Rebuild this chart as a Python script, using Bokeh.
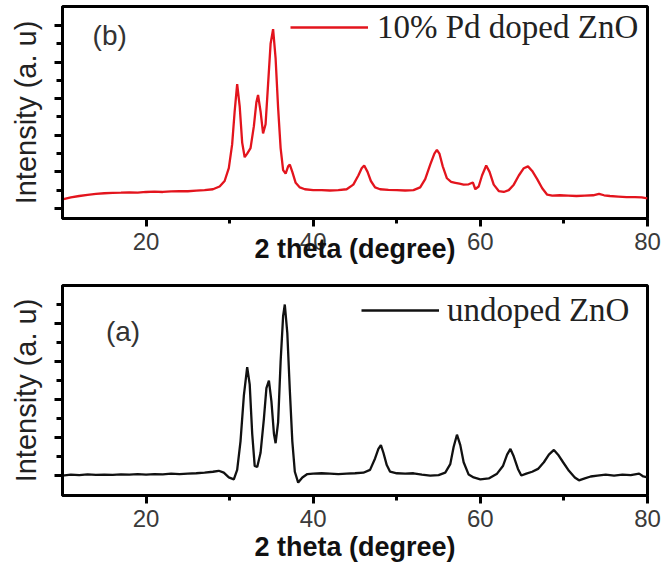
from bokeh.plotting import figure
from bokeh.layouts import column
from bokeh.models import Range1d, FixedTicker, Label, Legend, LegendItem
from bokeh.embed import file_html
from bokeh.resources import INLINE

# ---- data ----
theta_b = [10.0, 11, 12, 13, 14, 15, 16, 17, 18, 19, 20, 21, 22, 23, 24, 25, 26, 27, 28,
           28.8, 29.4, 29.9, 30.3, 30.6, 30.9, 31.2, 31.5, 31.8, 32.1, 32.5, 32.9, 33.2,
           33.4, 33.7, 34.0, 34.3, 34.6, 34.9, 35.2, 35.5, 35.8, 36.1, 36.4, 36.7, 37.0,
           37.2, 37.5, 37.9, 38.4, 39, 40, 41, 42, 43, 44, 44.8, 45.4, 45.8, 46.1, 46.5,
           46.9, 47.4, 48, 49, 50, 51, 52, 52.8, 53.4, 54.0, 54.5, 54.8, 55.1, 55.5, 56.0,
           56.5, 57, 57.5, 58, 58.6, 59.1, 59.4, 59.8, 60.2, 60.7, 61.1, 61.6, 62.2, 62.8,
           63.4, 64.0, 64.6, 65.2, 65.7, 66.2, 66.8, 67.4, 68.0, 68.6, 69.5, 70.5, 71.5,
           72.5, 73.5, 74.2, 74.8, 75.5, 76.5, 77.5, 78.5, 79.3, 80]
int_b = [0.49, 0.6, 0.68, 0.74, 0.8, 0.83, 0.85, 0.86, 0.88, 0.87, 0.9, 0.92, 0.9, 0.93,
         0.95, 0.94, 0.97, 1.0, 1.05,
         1.2, 1.5, 2.2, 3.5, 5.3, 6.8, 5.6, 3.6, 2.8, 3.0, 3.3, 4.5, 5.8,
         6.2, 5.3, 4.1, 4.6, 6.8, 9.0, 9.8, 8.2, 5.5, 3.3, 2.1, 1.9, 2.3,
         2.4, 2.0, 1.4, 1.15, 1.05, 1.0, 1.0, 0.98, 1.0, 1.05, 1.3, 1.8, 2.2, 2.35, 2.0,
         1.5, 1.15, 1.05, 1.02, 1.0, 0.98, 1.0, 1.15, 1.6, 2.4, 3.0, 3.2, 3.0, 2.3, 1.65,
         1.45, 1.4, 1.35, 1.3, 1.32, 1.42, 1.05, 1.2, 1.8, 2.35, 2.0, 1.3, 0.95, 0.9,
         1.0, 1.3, 1.8, 2.2, 2.3, 2.05, 1.6, 1.1, 0.75, 0.7, 0.72, 0.7, 0.68,
         0.7, 0.72, 0.8, 0.72, 0.68, 0.65, 0.62, 0.62, 0.6, 0.55]

theta_a = [10, 11, 12, 13, 14, 15, 16, 17, 18, 19, 20, 21, 22, 23, 24, 25, 26, 27, 28,
           28.7, 29.3, 29.9, 30.5, 30.9, 31.3, 31.7, 32.1, 32.4, 32.7, 33.0, 33.3, 33.7,
           34.1, 34.4, 34.7, 35.0, 35.3, 35.5, 35.8, 36.1, 36.4, 36.6, 36.9, 37.2, 37.5,
           37.8, 38.2, 38.7, 39.3, 40, 41, 42, 43, 44, 45, 46, 46.8, 47.4, 47.8, 48.1,
           48.4, 48.8, 49.2, 50, 51, 52, 53, 54, 55, 55.8, 56.4, 56.8, 57.2, 57.6, 58.0,
           58.6, 59.2, 60, 61, 62, 62.7, 63.2, 63.6, 64.0, 64.5, 64.9, 65.5, 66.2, 66.9,
           67.6, 68.2, 68.8, 69.3, 69.9, 70.6, 71.3, 71.8, 72.5, 73.2, 74, 75, 76, 77, 78,
           79, 79.5, 80]
int_a = [0.0, 0.05, 0.02, 0.06, 0.04, 0.05, 0.03, 0.06, 0.05, 0.07, 0.05, 0.08, 0.06, 0.1,
         0.08, 0.1, 0.12, 0.15, 0.2,
         0.25, 0.15, -0.1, -0.2, 0.3, 1.8, 4.2, 5.7, 4.8, 2.2, 0.5, 0.45, 1.2,
         3.0, 4.6, 5.0, 3.9, 2.2, 1.7, 2.8, 6.0, 8.4, 9.0, 7.5, 4.5, 1.8,
         0.2, -0.37, -0.1, 0.08, 0.1, 0.12, 0.1, 0.08, 0.1, 0.12, 0.15, 0.3, 0.9, 1.4, 1.6,
         1.2, 0.55, 0.2, 0.12, 0.1, 0.12, 0.05, 0.0, 0.02, 0.15, 0.6, 1.5, 2.15, 1.6, 0.7,
         0.05, -0.1, -0.2, -0.15, 0.1, 0.5, 1.1, 1.4, 1.0, 0.35, 0.0, 0.1, 0.2, 0.35,
         0.7, 1.1, 1.35, 1.1, 0.7, 0.25, -0.1, -0.25, -0.15, -0.05, 0.0, 0.05, 0.0, 0.05, 0.02,
         0.1, -0.05, -0.1]

x_major = [20, 40, 60, 80]
x_minor = [30, 50, 70]
label_b = "10% Pd doped ZnO"
label_a = "undoped ZnO"
x_title = "2 theta (degree)"
y_title = "Intensity (a. u)"

SANS = "Liberation Sans"
SERIF = "Liberation Serif"


def make_panel(xs, ys, color, legend_text, panel_text, y_lo, y_hi, y_major, y_minor,
               width, height, bl, br, bt, bb, leg_width, leg_height, leg_standoff,
               panel_xy, title_standoff):
    p = figure(width=width, height=height, output_backend="svg", toolbar_location=None,
               x_range=Range1d(10, 80), y_range=Range1d(y_lo, y_hi),
               min_border_left=bl, min_border_right=br, min_border_top=bt,
               min_border_bottom=bb)
    p.background_fill_color = "white"
    p.border_fill_color = "white"
    p.outline_line_color = "black"
    p.outline_line_width = 3
    p.xgrid.visible = False
    p.ygrid.visible = False

    r = p.line(xs, ys, line_color=color, line_width=2.3)

    xa = p.xaxis[0]
    xa.ticker = FixedTicker(ticks=x_major, minor_ticks=x_minor)
    xa.axis_line_width = 3
    xa.major_tick_line_width = 3
    xa.minor_tick_line_width = 3
    xa.major_tick_in = 0
    xa.major_tick_out = 8
    xa.minor_tick_in = 0
    xa.minor_tick_out = 5
    xa.major_label_text_font = SANS
    xa.major_label_text_font_size = "24px"
    xa.major_label_text_color = "#3a3a3a"
    xa.major_label_standoff = 6
    xa.axis_label = x_title
    xa.axis_label_text_font = SANS
    xa.axis_label_text_font_size = "27px"
    xa.axis_label_text_font_style = "bold"
    xa.axis_label_text_color = "#111111"
    xa.axis_label_standoff = title_standoff

    ya = p.yaxis[0]
    ya.ticker = FixedTicker(ticks=y_major, minor_ticks=y_minor)
    ya.major_label_overrides = {t: "" for t in y_major}
    ya.axis_line_width = 3
    ya.major_tick_line_width = 3
    ya.minor_tick_line_width = 3
    ya.major_tick_in = 0
    ya.major_tick_out = 8
    ya.minor_tick_in = 0
    ya.minor_tick_out = 6
    ya.major_label_standoff = 0
    ya.axis_label = y_title
    ya.axis_label_text_font = SANS
    ya.axis_label_text_font_size = "29px"
    ya.axis_label_text_font_style = "normal"
    ya.axis_label_text_color = "#222222"
    ya.axis_label_standoff = 13

    legend = Legend(items=[LegendItem(label=legend_text, renderers=[r])],
                    location="top_right", margin=2, padding=0,
                    glyph_width=78, glyph_height=leg_height,
                    label_width=leg_width, label_height=leg_height,
                    label_standoff=leg_standoff,
                    label_text_font=SERIF, label_text_font_size="33px",
                    label_text_color="#222222",
                    border_line_color=None, background_fill_alpha=0)
    p.add_layout(legend)

    p.add_layout(Label(x=panel_xy[0], y=panel_xy[1], text=panel_text,
                       text_font=SANS, text_font_size="28px",
                       text_color="#333333", text_align="left",
                       text_baseline="middle"))
    return p


p_top = make_panel(theta_b, int_b, "#e3141d", label_b, "(b)", -0.55, 11.04,
                   [0, 2, 4, 6, 8, 10], [1, 3, 5, 7, 9],
                   664, 270, 62, 16, 6, 52, 268, 38, 9, (13.6, 9.45), -19)
p_bot = make_panel(theta_a, int_a, "#111111", label_a, "(a)", -1.05, 10.0,
                   [0, 2, 4, 6, 8], [1, 3, 5, 7, 9],
                   664, 294, 60, 17, 15, 69, 198, 46, 8, (15.2, 7.6), 2)

layout = column(p_top, p_bot, spacing=0)

with open("out.html", "w") as f:
    f.write(file_html(layout, INLINE))
